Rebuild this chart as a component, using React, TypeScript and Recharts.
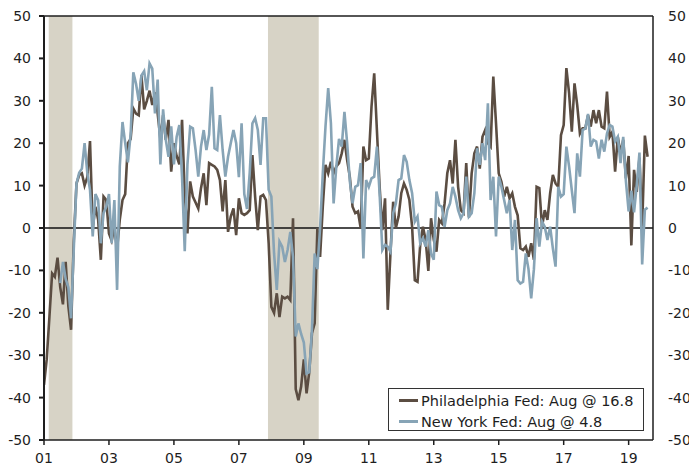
import React from 'react';
import { LineChart, Line, XAxis, YAxis, ReferenceArea, ReferenceLine, Legend } from 'recharts';

const START_YEAR = 2001;

// Philadelphia Fed business outlook, monthly from Jan 2001
const philly: number[] = [
  -37, -31, -21, -10.7, -11.5, -7, -14, -18, -8, -18.5, -24, -3,
  10.5, 12.5, 12.9, 10, 12, 20.5, 0, 5, 2, -7.5, 7.4, 6.6,
  -1.3, -3, 0, -5, 2, 6.6, 8, 20, 21, 28.2, 27, 26.6,
  36, 28, 30, 32.4, 29, 32, 27, 21, 26.6, 20.8, 25.5, 13.3,
  20, 17, 15, 25.5, 8, -1.3, 11, 7.4, 6, 4.6, 9.4, 12.9,
  5.4, 15.3, 14.9, 14.5, 13.7, 11.3, 3.9, 11.3, -0.9, 2.7, 4.6, -1.7,
  7, 3.5, 3.1, 3.5, 4.2, 17.2, 7.4, -0.5, 7.4, 7.8, 6.6, -3.6,
  -18.6, -20, -15.4, -21, -16.2, -16.6, -16.2, -17, 2.3, -38, -40.6, -37.4,
  -31, -39, -34, -24.8, -22.5, 0, -6.8, 5, 14.9, 12.9, 15.6, 12.9,
  14.5, 15.3, 17.6, 20.8, 16, 12, 5, 3.5, 3.9, 0, 19.2, 16,
  16.4, 28.6, 36.5, 23, 9.7, -0.5, 7, -19.3, -6, 6.2, 0, 2.7,
  8.2, 10.5, 9, 6.6, 0.3, -12.3, -12.7, -4, 0.3, -2.8, -10.1, 2.3,
  -2.8, -5.6, 1.9, 1.1, 5.8, 12.9, 16, 10.5, 20.8, 9.7, 4.2, 3.5,
  15.3, 2.5, 12.9, 17.6, 19.2, 14, 21.5, 23.1, 20, 19.2, 35.7, 24.7,
  12.9, 10.9, 7.4, 9.7, 7, 8.2, 5, 3, -4.8, -5.2, -4.4, -6.8,
  -3.6, -7.5, 9.7, 9.4, 0.3, 4.2, 1.9, 8.2, 12.5, 10.5, 9.7, 21.9,
  24.3, 37.7, 31.8, 22.7, 34.1, 29, 22.3, 23.5, 23.5, 26.6, 23.9, 27.8,
  24.7, 27.8, 23.9, 23.5, 32.2, 21.5, 22.7, 13.3, 21.5, 17.6, 20.8, 11.7,
  17, -4.1, 13.7, 8.5, 16.6, 0.3, 21.8, 16.8,
];

// Empire State (New York Fed) survey, starts Jul 2001
const newYork: (number | null)[] = [
  null, null, null, null, null, null, -13, -8, -12, -14, -21.3, -5,
  10.5, 13, 14, 20, 13, 9, -2, 8, 6.6, -3.6, 3.5, 5,
  8, -3.6, 6.6, -14.6, 14.5, 25, 20, 15.5, 22, 36.7, 34, 30,
  36, 37, 32.5, 38.8, 37.6, 27, 35, 15, 28, 20.8, 16.8, 24,
  15, 21.5, 24.3, 12, -5.5, 15, 23.9, 23.5, 18.4, 12.1, 19.2, 23.1,
  18.4, 22, 33.3, 18.8, 18.4, 26.6, 18.4, 12.1, 16.8, 20, 23.1, 20,
  12, 24.7, 8, 4.5, 13, 24.7, 25.9, 23.1, 14.9, 25.9, 25.9, 9,
  7.4, -6, -14.6, -3.2, -4.4, -8, -5.2, -0.9, -6.8, -25.6, -22.5, -25,
  -27, -34.3, -34, -24, -6, -9.7, 0, 12.9, 23.9, 33, 24.7, 5.8,
  14.5, 21, 19.2, 27.4, 20, 11, 5.8, 9.7, 10.1, 15.3, -7.2, 11.3,
  9.7, 11.7, 12.1, 19.2, 8, -5.2, -4, -4.4, -5.6, 3.5, 5.8, 11.3,
  11.7, 17.2, 15.6, 11.3, 8.2, 1.5, 2.7, -3.6, -2.4, -4.4, -0.5, -6,
  -7.5, 8.6, 5.4, 5, 0.3, 4.2, 5.8, 9.7, 7.4, 4.2, 2.3, 3.5,
  12.1, 2.7, 3.5, 8.2, 18.8, 14.9, 20, 16, 29.4, 6.6, 12.1, -2,
  12.1, 9.7, 6.6, 3.5, 6.6, -5.2, 1.9, -12.3, -13.1, -12.7, -6, -9.7,
  -16.6, -9.7, 2.3, -4.4, 1.5, 0.3, -2.8, 0.3, -4.8, -9.1, 9.7, 7.4,
  8, 19.2, 14.5, 8.9, 3.5, 17.6, 12.1, 23.1, 23.5, 26.9, 19.2, 20.8,
  20.4, 16.4, 20.8, 18, 22.3, 24.3, 23.9, 20.4, 21.5, 15.3, 21.5, 11,
  3.9, 8.8, 3.7, 10.1, 17.8, -8.6, 4.3, 4.8,
];

const xTickLabels = ['01', '03', '05', '07', '09', '11', '13', '15', '17', '19'];
const yTicks = [-50, -40, -30, -20, -10, 0, 10, 20, 30, 40, 50];
const recessions = [
  { start: '2001-03', end: '2001-11' },
  { start: '2007-12', end: '2009-06' },
];
const seriesNames = ['Philadelphia Fed: Aug @ 16.8', 'New York Fed: Aug @ 4.8'];

const FONT = '"DejaVu Sans", Verdana, sans-serif';
const BROWN = '#5b4d42';
const BLUE = '#87a4b6';
const AXIS = '#1e1e1e';
const SHADE = '#d7d3c6';

const monthIndex = (ym: string) => {
  const [y, m] = ym.split('-').map(Number);
  return (y - START_YEAR) * 12 + (m - 1);
};

const data = philly.map((v, i) => ({
  t: i,
  month: `${START_YEAR + Math.floor(i / 12)}-${String((i % 12) + 1).padStart(2, '0')}`,
  philly: v,
  newYork: newYork[i],
}));

const xTicks = xTickLabels.map(l => monthIndex(`20${l}-01`));

const renderLegend = () => (
  <div
    style={{
      width: 256,
      height: 43,
      boxSizing: 'border-box',
      border: '1px solid #333',
      background: '#fff',
      fontFamily: FONT,
      fontSize: 14.5,
      color: '#1e1e1e',
      padding: '1px 0 0 10px',
    }}
  >
    {seriesNames.map((name, k) => (
      <div key={name} style={{ display: 'flex', alignItems: 'center', height: 21, whiteSpace: 'nowrap' }}>
        <span style={{ display: 'inline-block', width: 19, height: 3, background: k === 0 ? BROWN : BLUE, marginRight: 3 }} />
        {name}
      </div>
    ))}
  </div>
);

const tickStyle = { fontFamily: FONT, fontSize: 14, fill: '#1e1e1e' };

export default function App() {
  return (
    <div style={{ position: 'fixed', left: 0, top: 0, width: 689, height: 467, overflow: 'hidden', background: '#fff' }}>
      <LineChart width={720} height={467} data={data} margin={{ top: 16, right: 15, bottom: 0, left: 0 }}>
        {recessions.map(r => (
          <ReferenceArea
            key={r.start}
            x1={monthIndex(r.start) - 0.25}
            x2={monthIndex(r.end) + 0.5}
            yAxisId="left"
            fill={SHADE}
            fillOpacity={1}
            stroke="none"
            ifOverflow="visible"
          />
        ))}
        <XAxis
          type="number"
          dataKey="t"
          domain={[0, 225]}
          ticks={xTicks}
          tickFormatter={(v: number) => xTickLabels[xTicks.indexOf(v)]}
          height={27}
          tick={tickStyle}
          tickSize={5}
          tickMargin={8}
          stroke={AXIS}
          strokeWidth={1.5}
          allowDataOverflow
        />
        <YAxis
          yAxisId="left"
          domain={[-50, 50]}
          ticks={yTicks}
          width={44}
          tick={tickStyle}
          tickSize={5}
          tickMargin={8}
          stroke={AXIS}
          strokeWidth={2}
          interval={0}
        />
        <YAxis
          yAxisId="right"
          orientation="right"
          domain={[-50, 50]}
          ticks={yTicks}
          width={52}
          tick={false}
          tickLine={{ stroke: AXIS }}
          tickSize={5}
          stroke={AXIS}
          strokeWidth={1.5}
          interval={0}
        />
        {/* right-hand tick labels, placed by the left axis scale */}
        {yTicks.map(v => (
          <ReferenceLine
            key={`r${v}`}
            yAxisId="left"
            y={v}
            stroke="none"
            ifOverflow="visible"
            label={{ value: String(v), position: 'right', offset: 15, style: tickStyle }}
          />
        ))}
        <ReferenceLine yAxisId="left" y={0} stroke="#111" strokeWidth={1.3} />
        <ReferenceLine yAxisId="left" y={50} stroke={AXIS} strokeWidth={1.5} />
        <Line
          yAxisId="left"
          type="linear"
          dataKey="philly"
          name={seriesNames[0]}
          stroke={BROWN}
          strokeWidth={2.6}
          dot={false}
          isAnimationActive={false}
        />
        <Line
          yAxisId="left"
          type="linear"
          dataKey="newYork"
          name={seriesNames[1]}
          stroke={BLUE}
          strokeWidth={2.6}
          dot={false}
          isAnimationActive={false}
        />
        <Legend
          layout="vertical"
          align="center"
          verticalAlign="middle"
          content={renderLegend}
          wrapperStyle={{ left: 388, top: 388, width: 256 }}
        />
      </LineChart>
    </div>
  );
}
